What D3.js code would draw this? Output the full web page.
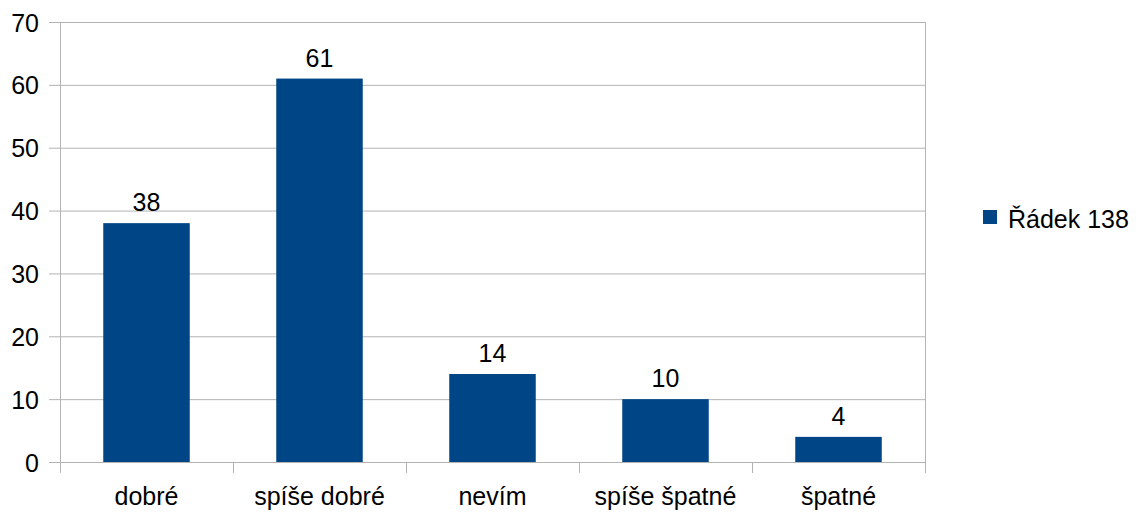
<!DOCTYPE html>
<html>
<head>
<meta charset="utf-8">
<script src="https://cdn.jsdelivr.net/npm/d3@7"></script>
<style>
  body { margin: 0; background: #fff; }
  svg text { font-family: "Liberation Sans", Arial, sans-serif; font-size: 25px; fill: #000; }
</style>
</head>
<body>
<div id="chart"></div>
<script>
var categories = ["dobré", "spíše dobré", "nevím", "spíše špatné", "špatné"];
var values = [38, 61, 14, 10, 4];
var seriesName = "Řádek 138";
var yTicks = [0, 10, 20, 30, 40, 50, 60, 70];

var width = 1138, height = 514;
var margin = {left: 60, right: 213, top: 22, bottom: 52};

var svg = d3.select("#chart").append("svg")
    .attr("width", width)
    .attr("height", height);

// bars sit in the middle half of each category band
var x = d3.scaleBand()
    .domain(categories)
    .range([margin.left, width - margin.right])
    .paddingInner(0.5)
    .paddingOuter(0.25);

var xb = d3.scaleBand()
    .domain(categories)
    .range([margin.left, width - margin.right]);

var y = d3.scaleLinear()
    .domain([0, 70])
    .range([height - margin.bottom, margin.top]);

// gridlines + y axis
var yAxis = svg.append("g")
    .attr("transform", "translate(" + margin.left + ",0)")
    .call(d3.axisLeft(y).tickValues(yTicks)
        .tickSize(-(width - margin.right - margin.left))
        .tickSizeOuter(0)
        .tickPadding(21));
yAxis.select(".domain").remove();
yAxis.selectAll(".tick line")
    .attr("x1", -11)
    .attr("stroke", "#b3b3b3");
yAxis.selectAll("text").attr("dy", "0.36em");

// vertical axis line
svg.append("line")
    .attr("x1", margin.left + 0.5).attr("x2", margin.left + 0.5)
    .attr("y1", margin.top).attr("y2", height - margin.bottom)
    .attr("stroke", "#b3b3b3");
// right border line
svg.append("line")
    .attr("x1", width - margin.right + 0.5).attr("x2", width - margin.right + 0.5)
    .attr("y1", margin.top).attr("y2", height - margin.bottom)
    .attr("stroke", "#b3b3b3");

// category separators
var seps = categories.map(function (c) { return xb(c); }).concat([width - margin.right]);
svg.append("g").selectAll("line")
    .data(seps)
    .enter().append("line")
    .attr("x1", function (d) { return Math.round(d) + 0.5; })
    .attr("x2", function (d) { return Math.round(d) + 0.5; })
    .attr("y1", height - margin.bottom)
    .attr("y2", height - margin.bottom + 11)
    .attr("stroke", "#b3b3b3");

// bars
svg.append("g").selectAll("rect")
    .data(values)
    .enter().append("rect")
    .attr("x", function (d, i) { return x(categories[i]); })
    .attr("y", function (d) { return y(d); })
    .attr("width", x.bandwidth())
    .attr("height", function (d) { return y(0) - y(d); })
    .attr("fill", "#004586");

// value labels
svg.append("g").selectAll("text")
    .data(values)
    .enter().append("text")
    .attr("x", function (d, i) { return x(categories[i]) + x.bandwidth() / 2; })
    .attr("y", function (d) { return y(d) - 12; })
    .attr("text-anchor", "middle")
    .text(function (d) { return d; });

// category labels
svg.append("g").selectAll("text")
    .data(categories)
    .enter().append("text")
    .attr("x", function (d) { return xb(d) + xb.bandwidth() / 2; })
    .attr("y", 505)
    .attr("text-anchor", "middle")
    .text(function (d) { return d; });

// legend
var legend = svg.append("g").attr("transform", "translate(983,210)");
legend.append("rect")
    .attr("width", 14).attr("height", 14)
    .attr("fill", "#004586");
legend.append("text")
    .attr("x", 25).attr("y", 18)
    .text(seriesName);
</script>
</body>
</html>
